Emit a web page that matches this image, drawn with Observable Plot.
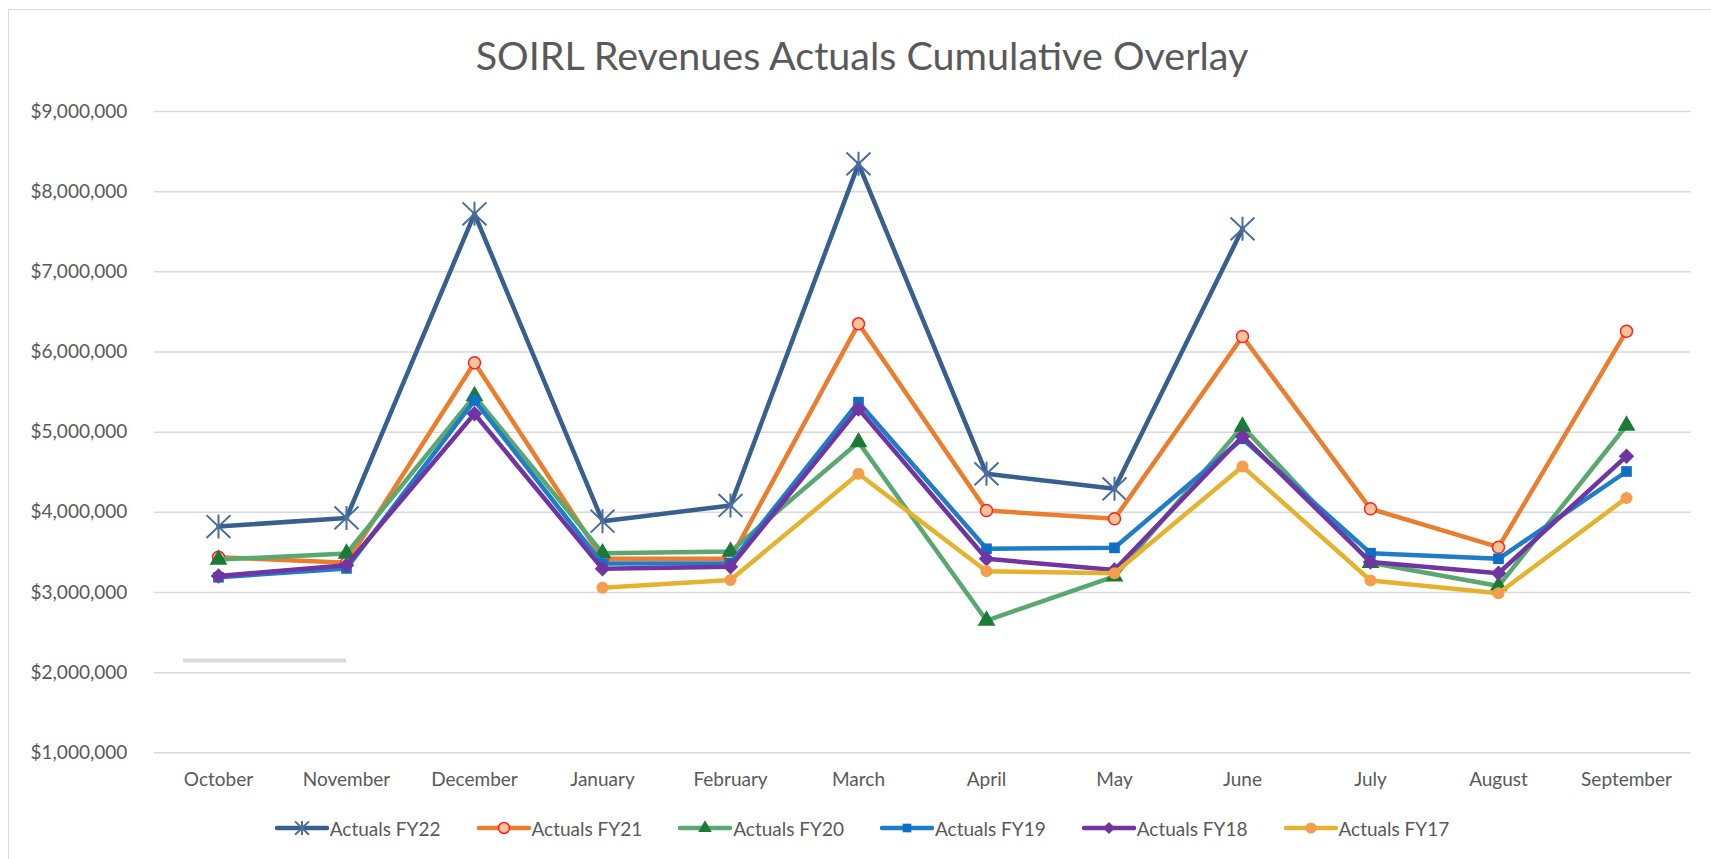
<!DOCTYPE html>
<html>
<head>
<meta charset="utf-8">
<script src="https://cdn.jsdelivr.net/npm/d3@7"></script>
<script src="https://cdn.jsdelivr.net/npm/@observablehq/plot@0.6"></script>
<style>
  html, body { margin: 0; padding: 0; width: 1711px; height: 859px; overflow: hidden; background: #fff; font-family: Lato, "Open Sans", sans-serif; }
  #frame { position: absolute; left: 8px; top: 9px; width: 1760px; height: 920px; border: 1.5px solid #d9d9d9; box-sizing: border-box; }
  #title { position: absolute; left: 0; top: 30px; width: 1724px; height: 50px; line-height: 50px; text-align: center; font-size: 39.5px; color: #595959; white-space: nowrap; }
  #chart { position: absolute; left: 0; top: 84px; }
  #legend { position: absolute; left: 0; top: 808px; width: 1724px; height: 40px; display: flex; justify-content: center; align-items: center; gap: 36px; font-size: 19px; color: #595959; }
  .item { display: flex; align-items: center; gap: 1px; white-space: nowrap; }
  .item svg { display: block; }
</style>
</head>
<body>
<div id="frame"></div>
<div id="title">SOIRL Revenues Actuals Cumulative Overlay</div>
<div id="chart"></div>
<div id="legend"></div>
<script>
// ---- data ----
const months = ["October", "November", "December", "January", "February", "March", "April", "May", "June", "July", "August", "September"];
const seriesNames = ["Actuals FY22", "Actuals FY21", "Actuals FY20", "Actuals FY19", "Actuals FY18", "Actuals FY17"];
const fy22 = [3823000, 3930000, 7724000, 3889000, 4085000, 8347000, 4480000, 4293000, 7536000, null, null, null];
const fy21 = [3440000, 3370000, 5865000, 3420000, 3420000, 6351000, 4022000, 3919000, 6193000, 4044000, 3565000, 6259000];
const fy20 = [3410000, 3485000, 5450000, 3490000, 3510000, 4875000, 2650000, 3200000, 5070000, 3370000, 3080000, 5083000];
const fy19 = [3190000, 3300000, 5395000, 3360000, 3365000, 5374000, 3545000, 3557000, 4917000, 3490000, 3420000, 4509000];
const fy18 = [3205000, 3340000, 5229000, 3295000, 3320000, 5290000, 3420000, 3280000, 4946000, 3380000, 3240000, 4700000];
const fy17 = [null, null, null, 3060000, 3155000, 4480000, 3265000, 3240000, 4571000, 3150000, 2990000, 4180000];
const yTicks = [1000000, 2000000, 3000000, 4000000, 5000000, 6000000, 7000000, 8000000, 9000000];
const grayMonths = ["October", "November"];
const grayValue = 2150000;

// ---- styles ----
const star = {
  draw(ctx, size) {
    const s = Math.sqrt(size / Math.PI);
    ctx.moveTo(-s, -s * 0.95); ctx.lineTo(s, s * 0.95);
    ctx.moveTo(-s, s * 0.95); ctx.lineTo(s, -s * 0.95);
    ctx.moveTo(0, -s); ctx.lineTo(0, s);
  }
};
const styles = [
  {line: "#38608f", symbol: star, r: 12, fill: "none", stroke: "#4a6e9f", sw: 2, lr: 7},
  {line: "#ea7d2e", symbol: "circle", r: 6, fill: "#f8c49a", stroke: "#ff1f1f", sw: 1.5, lr: 5.5},
  {line: "#5aa86f", symbol: "triangle2", r: 8.5, fill: "#1b7a36", stroke: "none", sw: 0, lr: 6.5},
  {line: "#1f7cc6", symbol: "square2", r: 6.8, fill: "#0f6fc6", stroke: "none", sw: 0, lr: 5.5},
  {line: "#7134a3", symbol: "diamond2", r: 7, fill: "#7134a3", stroke: "none", sw: 0, lr: 5.5},
  {line: "#e4b22d", symbol: "circle", r: 6, fill: "#f59d4f", stroke: "none", sw: 0, lr: 5.5}
];
const allValues = [fy22, fy21, fy20, fy19, fy18, fy17];
const series = seriesNames.map((name, i) => ({
  name,
  style: styles[i],
  data: months.map((m, j) => ({month: m, value: allValues[i][j]}))
}));

const marks = [
  Plot.gridY(yTicks, {stroke: "#d9d9d9", strokeOpacity: 1, strokeWidth: 1.5}),
  Plot.ruleY([grayValue], {x1: () => grayMonths[0], x2: () => grayMonths[1], stroke: "#d9d9d9", strokeWidth: 4, insetLeft: -35}),
  Plot.axisY(yTicks, {tickSize: 0, tickPadding: 27, tickFormat: d3.format("$,"), fontSize: 19, fill: "#595959"}),
  Plot.axisX({tickSize: 0, tickPadding: 20, fontSize: 19, fill: "#595959"})
];
for (const s of series) {
  const st = s.style;
  const defined = s.data.filter(d => d.value != null);
  marks.push(Plot.line(defined, {x: "month", y: "value", stroke: st.line, strokeWidth: 4.5, strokeLinejoin: "round", strokeLinecap: "round"}));
  marks.push(Plot.dot(defined, {x: "month", y: "value", symbol: st.symbol, r: st.r, fill: st.fill, stroke: st.stroke, strokeWidth: st.sw}));
}

const chart = Plot.plot({
  width: 1711,
  height: 720,
  marginTop: 27,
  marginBottom: 51.7,
  marginLeft: 153.8,
  marginRight: 20.7,
  style: {fontFamily: "Lato, 'Open Sans', sans-serif", fontSize: "19px", color: "#595959", background: "transparent"},
  x: {type: "point", domain: months, padding: 0.5, label: null},
  y: {domain: [1000000, 9000000], label: null},
  marks
});
document.getElementById("chart").appendChild(chart);

// ---- legend ----
const legend = d3.select("#legend");
series.forEach(s => {
  const st = s.style;
  const item = legend.append("div").attr("class", "item");
  const svg = item.append("svg").attr("width", 54).attr("height", 22);
  svg.append("line").attr("x1", 2).attr("x2", 52).attr("y1", 11).attr("y2", 11)
    .attr("stroke", st.line).attr("stroke-width", 4.5).attr("stroke-linecap", "round");
  const sym = typeof st.symbol === "string" ? ({circle: d3.symbolCircle, triangle2: d3.symbolTriangle2, square2: d3.symbolSquare2, diamond2: d3.symbolDiamond2})[st.symbol] : st.symbol;
  svg.append("path").attr("transform", "translate(27,11)")
    .attr("d", d3.symbol(sym, st.lr * st.lr * Math.PI)())
    .attr("fill", st.fill).attr("stroke", st.stroke === "none" ? null : st.stroke).attr("stroke-width", st.sw);
  item.append("span").text(s.name);
});
</script>
</body>
</html>
